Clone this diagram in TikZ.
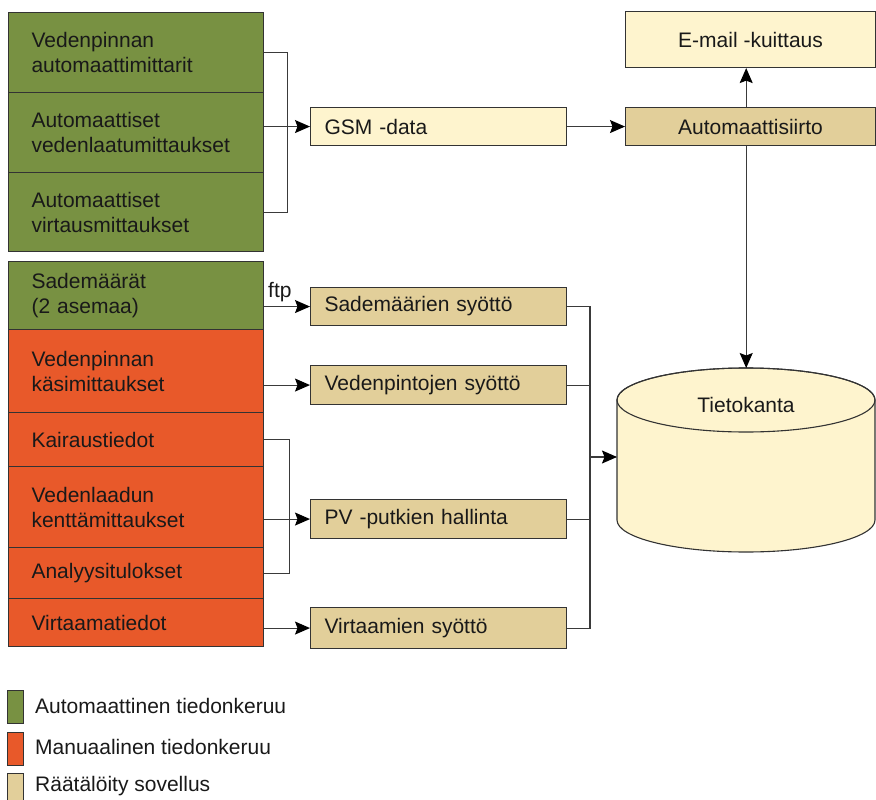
\documentclass[tikz,border=0pt]{standalone}
\usepackage{fontspec}
\setmainfont{Liberation Sans}
\usetikzlibrary{arrows.meta}
\definecolor{cgreen}{HTML}{789142}
\definecolor{corange}{HTML}{E8592A}
\definecolor{ctan}{HTML}{E2CF9A}
\definecolor{cyel}{HTML}{FEF4CE}
\definecolor{cborder}{HTML}{333333}
\definecolor{cline}{HTML}{3A3A3A}
\begin{document}
\begin{tikzpicture}[x=1pt,y=-1pt,
  font=\fontsize{21}{25}\selectfont,
  leftbox/.style={draw=cborder, line width=1.1pt, anchor=north west, minimum width=255pt,
    text width=209pt, inner xsep=23pt, inner ysep=0pt, align=left, text=black!90},
  midbox/.style={draw=cborder, line width=1.1pt, anchor=north west, minimum width=256pt,
    text width=228pt, inner xsep=14pt, inner ysep=0pt, align=left, text=black!90},
  rbox/.style={draw=cborder, line width=1.1pt, anchor=north west, minimum width=250pt,
    inner sep=0pt, align=center, text=black!90},
  legsq/.style={draw=cborder, line width=1.1pt, anchor=north west, minimum width=16pt,
    minimum height=33pt, inner sep=0pt},
  legtxt/.style={anchor=west, inner sep=0pt, text=black!90},
  conn/.style={draw=cline, line width=1.1pt},
  arr/.style={conn, -{Stealth[length=15pt,width=13pt,inset=2.5pt,color=black]}}
]
\useasboundingbox (0,0) rectangle (876,800);

% left column
\node[leftbox, fill=cgreen, minimum height=80pt] (a1) at (8,12) {Vedenpinnan\\automaattimittarit};
\node[leftbox, fill=cgreen, minimum height=80pt] (a2) at (8,92) {Automaattiset\\vedenlaatumittaukset};
\node[leftbox, fill=cgreen, minimum height=79pt] (a3) at (8,172) {Automaattiset\\virtausmittaukset};
\node[leftbox, fill=cgreen, minimum height=68pt] (b1) at (8,261) {Sademäärät\\(2 asemaa)};
\node[leftbox, fill=corange, minimum height=83pt] (c1) at (8,329) {Vedenpinnan\\käsimittaukset};
\node[leftbox, fill=corange, minimum height=54pt] (c2) at (8,412) {Kairaustiedot};
\node[leftbox, fill=corange, minimum height=81pt] (c3) at (8,466) {Vedenlaadun\\kenttämittaukset};
\node[leftbox, fill=corange, minimum height=51pt] (c4) at (8,547) {Analyysitulokset};
\node[leftbox, fill=corange, minimum height=48pt] (c5) at (8,598) {Virtaamatiedot};

% middle column
\node[midbox, fill=cyel, minimum height=38pt] (gsm) at (310,107) {GSM -data};
\node[midbox, fill=ctan, minimum height=38pt] (sad) at (310,287) {Sademäärien syöttö};
\node[midbox, fill=ctan, minimum height=39pt] (ved) at (310,365) {Vedenpintojen syöttö};
\node[midbox, fill=ctan, minimum height=39pt] (pv) at (310,499) {PV -putkien hallinta};
\node[midbox, fill=ctan, minimum height=41pt] (vir) at (310,607) {Virtaamien syöttö};

% right column
\node[rbox, fill=cyel, minimum height=56pt] (email) at (625,11) {E-mail -kuittaus};
\node[rbox, fill=ctan, minimum height=38pt] (auto) at (625,107) {Automaattisiirto};

% database cylinder
\node[minimum width=258pt, minimum height=184pt, inner sep=0pt, anchor=north west] (db) at (617,368) {};
\draw[draw=cborder, fill=cyel, line width=1.1pt]
  (617,400) -- (617,520) arc (180:0:129 and 32) -- (875,400) arc (0:-180:129 and 32) -- cycle;
\draw[draw=cborder, line width=1.1pt] (746,400) ellipse (129 and 32);
\node[text=black!90] (dbl) at (746,405) {Tietokanta};

% connectors: top group
\draw[conn] (a1.east) -- ++(23,0) |- (a3.east);
\draw[arr] (a2.east |- gsm.west) -- (gsm.west);
\draw[arr] (gsm.east) -- (gsm.east -| auto.west);
\draw[arr] (db.north |- auto.north) -- (db.north |- email.south);
\draw[arr] (db.north |- auto.south) -- (db.north);

% connectors: lower group
\draw[arr] (b1.east |- sad.west) -- (sad.west);
\node[anchor=base west, inner sep=0pt, text=black!90] (ftp) at (268,297) {ftp};
\draw[arr] (c1.east |- ved.west) -- (ved.west);
\draw[conn] (c2.east) -- ++(25,0) |- (c4.east);
\draw[arr] (c3.east |- pv.west) -- (pv.west);
\draw[arr] (c5.east |- vir.west) -- (vir.west);

% bus to database
\coordinate (bus) at (590,457);
\draw[conn] (sad.east) -- (sad.east -| bus) |- (vir.east);
\draw[conn] (ved.east) -- (ved.east -| bus);
\draw[conn] (pv.east) -- (pv.east -| bus);
\draw[arr] (bus) -- (bus -| db.west);

% legend
\node[legsq, fill=cgreen] (lg1) at (7,690) {};
\node[legsq, fill=corange] (lg2) at (7,732) {};
\node[legsq, fill=ctan] (lg3) at (7,773) {};
\node[legtxt] (lt1) at (35,706) {Automaattinen tiedonkeruu};
\node[legtxt] (lt2) at (35,747) {Manuaalinen tiedonkeruu};
\node[legtxt] (lt3) at (35,786) {Räätälöity sovellus};
\end{tikzpicture}
\end{document}
